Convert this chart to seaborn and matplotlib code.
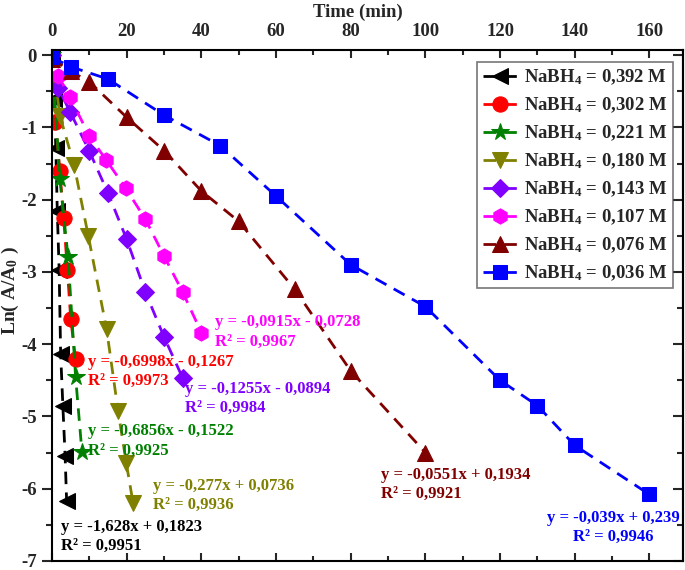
import numpy as np
import pandas as pd
import matplotlib
matplotlib.use("Agg")
import matplotlib.pyplot as plt
import seaborn as sns
from matplotlib.ticker import MultipleLocator

# series data: time (min) vs Ln(A/A0)
t_392 = [0, 0.6, 1.0, 1.4, 1.9, 2.3, 2.9, 3.5, 3.9]
y_392 = [0, -0.6, -1.28, -2.16, -2.98, -4.13, -4.86, -5.55, -6.17]

t_302 = [0, 0.9, 2.1, 3.1, 4.1, 5.0, 6.3]
y_302 = [0, -0.92, -1.6, -2.25, -2.97, -3.65, -4.21]

t_221 = [0, 2.1, 4.3, 6.3, 8.0]
y_221 = [0, -1.72, -2.8, -4.45, -5.49]

t_180 = [0, 2.1, 5.9, 9.7, 14.6, 17.7, 19.9, 21.7]
y_180 = [0, -0.84, -1.52, -2.5, -3.79, -4.93, -5.65, -6.2]

t_143 = [0, 1.7, 4.8, 10, 15, 20, 25, 30, 35]
y_143 = [0, -0.46, -0.78, -1.33, -1.91, -2.55, -3.28, -3.9, -4.47]

t_107 = [0, 1.7, 4.8, 10, 14.5, 19.7, 25, 30, 35, 40]
y_107 = [0, -0.29, -0.58, -1.12, -1.45, -1.84, -2.27, -2.78, -3.28, -3.84]

t_076 = [0, 5, 10, 20, 30, 40, 50, 65, 80, 100]
y_076 = [-0.05, -0.22, -0.37, -0.86, -1.32, -1.88, -2.3, -3.24, -4.37, -5.5]

t_036 = [0, 5, 15, 30, 45, 60, 80, 100, 120, 130, 140, 160]
y_036 = [-0.03, -0.16, -0.33, -0.83, -1.25, -1.95, -2.9, -3.48, -4.5, -4.85, -5.4, -6.08]

conc = ['0,392', '0,302', '0,221', '0,180', '0,143', '0,107', '0,076', '0,036']
times = [t_392, t_302, t_221, t_180, t_143, t_107, t_076, t_036]
values = [y_392, y_302, y_221, y_180, y_143, y_107, y_076, y_036]
colors = ['#000000', '#ff0000', '#008000', '#808000', '#8000ff', '#ff00ff', '#800000', '#0000ff']
markers = ['<', 'o', '*', 'v', 'D', 'h', '^', 's']
msizes = [11, 11, 13, 11, 9.5, 11, 11, 10]

fits = [
    'y = -1,628x + 0,1823\nR² = 0,9951',
    'y = -0,6998x - 0,1267\nR² = 0,9973',
    'y = -0,6856x - 0,1522\nR² = 0,9925',
    'y = -0,277x + 0,0736\nR² = 0,9936',
    'y = -0,1255x - 0,0894\nR² = 0,9984',
    'y = -0,0915x - 0,0728\nR² = 0,9967',
    'y = -0,0551x + 0,1934\nR² = 0,9921',
    'y = -0,039x + 0,239\nR² = 0,9946',
]
# label anchor (data coords) and alignment
fit_pos = [(2.4, -6.66, 'left'), (9.7, -4.38, 'left'), (9.7, -5.34, 'left'),
           (27.1, -6.09, 'left'), (35.7, -4.75, 'left'), (43.7, -3.83, 'left'),
           (88.0, -5.94, 'left'), (150.4, -6.54, 'center')]

sns.set_style('white')
plt.rcParams['font.family'] = ['Liberation Serif', 'DejaVu Serif']
plt.rcParams['font.weight'] = 'bold'
plt.rcParams['axes.unicode_minus'] = False
plt.rcParams['mathtext.fontset'] = 'custom'
plt.rcParams['mathtext.rm'] = 'Liberation Serif:bold'
plt.rcParams['mathtext.bf'] = 'Liberation Serif:bold'
plt.rcParams['mathtext.it'] = 'Liberation Serif:bold:italic'

fig = plt.figure(figsize=(6.85, 5.7), dpi=100)
ax = fig.add_axes([0.076, 0.016, 0.921, 0.896])

for i in range(len(conc)):
    df = pd.DataFrame({'t': times[i], 'lnA': values[i]})
    sns.lineplot(data=df, x='t', y='lnA', ax=ax, color=colors[i],
                 marker=markers[i], markersize=msizes[i],
                 markeredgecolor=colors[i], linewidth=2,
                 linestyle=(0, (4.5, 3)), sort=False,
                 label=r'NaBH$_\mathbf{4}$ = ' + conc[i] + ' M')

for i in range(len(fits)):
    x, y, ha = fit_pos[i]
    ax.text(x, y, fits[i], color=colors[i], fontsize=12, fontweight='bold',
            ha=ha, va='center', multialignment=ha, linespacing=1.25)

ax.set_xlim(0, 169)
ax.set_ylim(-7, 0.07)
ax.xaxis.set_major_locator(MultipleLocator(20))
ax.xaxis.set_minor_locator(MultipleLocator(10))
ax.yaxis.set_major_locator(MultipleLocator(1))
ax.yaxis.set_minor_locator(MultipleLocator(0.5))

ax.tick_params(axis='x', which='both', direction='in', top=True, bottom=True,
               labeltop=True, labelbottom=False, labelsize=13.5, pad=7, width=1.5)
ax.tick_params(axis='x', which='major', length=6)
ax.tick_params(axis='x', which='minor', length=3.5)
ax.tick_params(axis='y', which='both', direction='out', left=True, right=False,
               labelsize=13.5, pad=4, width=1.5)
ax.tick_params(axis='y', which='major', length=7)
ax.tick_params(axis='y', which='minor', length=4)

sec = ax.secondary_yaxis('right')
sec.yaxis.set_major_locator(MultipleLocator(1))
sec.yaxis.set_minor_locator(MultipleLocator(0.5))
sec.tick_params(axis='y', which='both', direction='in', labelright=False, width=1.5)
sec.tick_params(axis='y', which='major', length=7)
sec.tick_params(axis='y', which='minor', length=4)
sec.spines['right'].set_linewidth(1.5)

for s in ax.spines.values():
    s.set_linewidth(1.5)
    s.set_color('black')

ax.set_xlabel('Time (min)', fontsize=13.5, fontweight='bold')
ax.xaxis.set_label_position('top')
ax.xaxis.set_label_coords(0.485, 1.066)
ax.set_ylabel(r'Ln( A/A$_\mathbf{0}$ )', fontsize=14, fontweight='bold')
ax.yaxis.set_label_coords(-0.05, 0.53)

leg = ax.legend(loc='upper right', bbox_to_anchor=(0.984, 0.977), fontsize=13.5,
                handlelength=1.8, handletextpad=0.4, labelspacing=0.45,
                borderpad=0.3, borderaxespad=0, frameon=True, fancybox=False)
leg.get_frame().set_edgecolor('#555555')
leg.get_frame().set_linewidth(1.2)

fig.savefig('out.png', dpi=100)
